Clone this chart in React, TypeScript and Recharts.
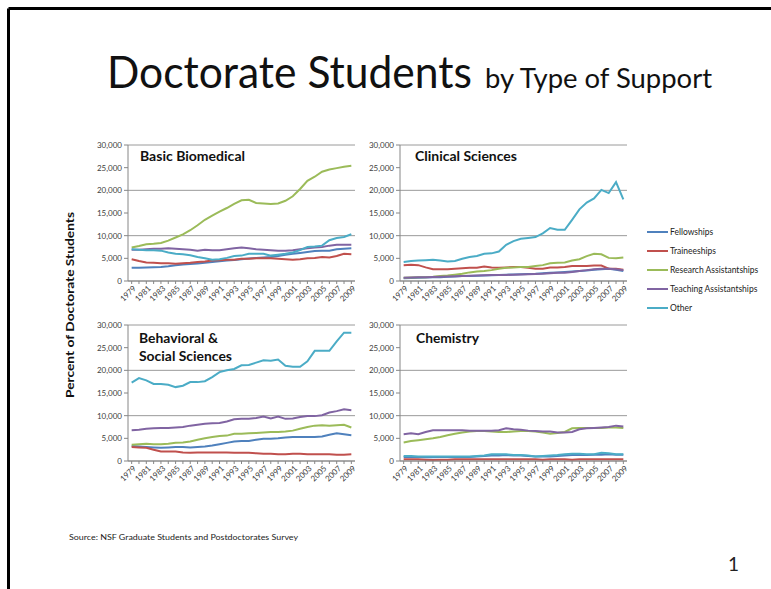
import { LineChart, Line, XAxis, YAxis, CartesianGrid } from 'recharts'

const YEARS = [
  '1979', '1980', '1981', '1982', '1983', '1984', '1985', '1986', '1987', '1988',
  '1989', '1990', '1991', '1992', '1993', '1994', '1995', '1996', '1997', '1998',
  '1999', '2000', '2001', '2002', '2003', '2004', '2005', '2006', '2007', '2008', '2009',
]

const SERIES = ['Fellowships', 'Traineeships', 'Research Assistantships', 'Teaching Assistantships', 'Other']
const COLORS = ['#4F81BD', '#C0504D', '#9BBB59', '#8064A2', '#4BACC6']
const Y_TICKS = [0, 5000, 10000, 15000, 20000, 25000, 30000]

// Basic Biomedical
const bioFellowships = [2900, 2950, 3000, 3050, 3100, 3250, 3450, 3650, 3750, 3850, 4000, 4200, 4350, 4500, 4650, 4800, 4950, 5100, 5200, 5300, 5500, 5800, 6000, 6200, 6400, 6600, 6700, 6700, 7000, 7100, 7200]
const bioTraineeships = [4800, 4400, 4100, 4000, 3900, 3900, 3800, 3900, 4000, 4200, 4300, 4500, 4600, 4700, 4700, 4900, 4900, 5000, 5000, 5000, 4900, 4800, 4700, 4800, 5000, 5100, 5300, 5200, 5500, 6000, 5900]
const bioResearch = [7400, 7700, 8100, 8200, 8400, 8900, 9600, 10300, 11200, 12300, 13500, 14400, 15300, 16100, 17000, 17800, 17900, 17200, 17100, 17000, 17100, 17700, 18700, 20300, 22100, 23000, 24100, 24600, 24900, 25200, 25400]
const bioTeaching = [6900, 6900, 7000, 7100, 7100, 7200, 7100, 7000, 6900, 6700, 6900, 6800, 6800, 7000, 7200, 7400, 7200, 7000, 6900, 6800, 6700, 6700, 6800, 7000, 7200, 7400, 7500, 7800, 8000, 8000, 8000]
const bioOther = [7000, 6900, 6800, 6800, 6700, 6300, 6000, 5900, 5700, 5300, 5000, 4700, 4800, 5100, 5500, 5600, 6000, 6000, 6000, 5600, 5800, 6000, 6300, 6800, 7500, 7600, 7800, 9000, 9500, 9700, 10300]

// Clinical Sciences
const clinFellowships = [600, 650, 700, 750, 800, 850, 950, 1000, 1100, 1100, 1150, 1200, 1250, 1300, 1400, 1450, 1500, 1550, 1600, 1700, 1800, 1900, 2000, 2100, 2200, 2300, 2500, 2600, 2700, 2500, 2200]
const clinTraineeships = [3500, 3600, 3500, 3000, 2600, 2600, 2600, 2700, 2800, 2900, 2900, 3200, 3000, 2900, 3000, 3100, 3100, 2900, 2700, 2700, 3000, 3000, 3100, 3300, 3300, 3300, 3400, 3400, 2700, 2700, 2500]
const clinResearch = [700, 750, 800, 850, 950, 1100, 1200, 1400, 1600, 1900, 2100, 2200, 2400, 2700, 2900, 3000, 3100, 3100, 3300, 3500, 3900, 4000, 4100, 4500, 4800, 5500, 6000, 5900, 5100, 5000, 5200]
const clinTeaching = [700, 750, 800, 850, 900, 950, 1000, 1050, 1100, 1150, 1200, 1250, 1300, 1300, 1300, 1400, 1450, 1500, 1550, 1600, 1700, 1800, 1800, 2000, 2200, 2400, 2600, 2700, 2700, 2600, 2400]
const clinOther = [4200, 4400, 4500, 4600, 4700, 4500, 4300, 4400, 4900, 5300, 5500, 6000, 6100, 6500, 8000, 8800, 9300, 9500, 9700, 10500, 11700, 11300, 11300, 13500, 15800, 17300, 18200, 20100, 19400, 21800, 18000]

// Behavioral & Social Sciences
const behFellowships = [3300, 3200, 3100, 3000, 2900, 3000, 3100, 3100, 3000, 3100, 3200, 3400, 3700, 4000, 4300, 4400, 4400, 4700, 4900, 4900, 5000, 5200, 5300, 5300, 5300, 5300, 5400, 5800, 6100, 5900, 5700]
const behTraineeships = [3100, 3000, 2900, 2500, 2100, 2100, 2100, 1900, 1800, 1900, 1900, 1900, 1900, 1900, 1800, 1800, 1800, 1700, 1600, 1600, 1500, 1500, 1600, 1600, 1500, 1500, 1500, 1500, 1400, 1400, 1500]
const behResearch = [3600, 3700, 3800, 3700, 3700, 3800, 4000, 4100, 4300, 4700, 5000, 5300, 5500, 5600, 6000, 6000, 6100, 6200, 6300, 6400, 6400, 6500, 6700, 7100, 7500, 7800, 7900, 7800, 7900, 8000, 7400]
const behTeaching = [6800, 6900, 7100, 7200, 7300, 7300, 7400, 7500, 7800, 8000, 8200, 8300, 8400, 8700, 9200, 9300, 9300, 9500, 9800, 9400, 9800, 9300, 9400, 9700, 9900, 9900, 10100, 10700, 11000, 11400, 11200]
const behOther = [17300, 18300, 17800, 17000, 17000, 16800, 16300, 16600, 17400, 17400, 17600, 18500, 19600, 20000, 20300, 21100, 21200, 21700, 22200, 22100, 22400, 21000, 20800, 20800, 22000, 24300, 24300, 24300, 26400, 28300, 28300]

// Chemistry
const chemFellowships = [900, 900, 900, 850, 850, 900, 900, 900, 900, 900, 1000, 1100, 1200, 1200, 1300, 1200, 1200, 1100, 1000, 1000, 1000, 1100, 1200, 1300, 1300, 1300, 1400, 1400, 1500, 1400, 1400]
const chemTraineeships = [400, 400, 400, 300, 200, 300, 300, 400, 400, 400, 400, 400, 400, 400, 400, 400, 400, 400, 400, 300, 400, 400, 400, 300, 400, 400, 400, 400, 400, 400, 400]
const chemResearch = [4100, 4400, 4600, 4800, 5000, 5300, 5700, 6000, 6300, 6500, 6600, 6600, 6500, 6400, 6400, 6500, 6600, 6600, 6500, 6300, 6000, 6200, 6400, 7200, 7300, 7300, 7300, 7300, 7400, 7400, 7300]
const chemTeaching = [5900, 6100, 5900, 6400, 6800, 6800, 6800, 6800, 6800, 6700, 6700, 6700, 6700, 6800, 7200, 7000, 6900, 6700, 6600, 6500, 6500, 6300, 6300, 6400, 7000, 7200, 7300, 7400, 7500, 7800, 7600]
const chemOther = [1100, 1100, 1000, 1000, 1000, 1000, 1000, 1000, 1000, 1000, 1100, 1200, 1500, 1500, 1500, 1300, 1300, 1200, 1000, 1100, 1200, 1300, 1500, 1600, 1600, 1500, 1500, 1800, 1700, 1500, 1500]

const FONT = 'Lato, "Open Sans", sans-serif'
const AXIS_GRAY = '#868686'

function buildRows(cols: number[][]) {
  return YEARS.map((year, i) => {
    const row: Record<string, string | number> = { year }
    SERIES.forEach((s, k) => { row[s] = cols[k][i] })
    return row
  })
}

function YearTick({ x, y, payload, index }: any) {
  if (index % 2) return null
  return (
    <g transform={`translate(${x + 3},${y + 1})`}>
      <text x={0} y={0} dy="0.35em" textAnchor="end" transform="rotate(-45)" fontSize={8} fill="#404040" fontFamily={FONT}>
        {payload.value}
      </text>
    </g>
  )
}

function Panel({ left, top, cols }: { left: number; top: number; cols: number[][] }) {
  // left/top is the corner of the plot area
  const rows = buildRows(cols)
  return (
    <div style={{ position: 'absolute', left: left - 40, top: top - 10 }}>
      <LineChart width={282} height={186} data={rows} margin={{ top: 10, right: 15, left: 0, bottom: 0 }}>
        <CartesianGrid vertical={false} stroke="#9a9a9a" />
        <XAxis
          dataKey="year"
          interval={0}
          tick={<YearTick />}
          tickSize={3}
          padding={{ left: 3.66, right: 3.66 }}
          height={40}
          stroke={AXIS_GRAY}
        />
        <YAxis
          domain={[0, 30000]}
          ticks={Y_TICKS}
          tickFormatter={(v: number) => v.toLocaleString('en-US')}
          tick={{ fontSize: 8, fill: '#404040', fontFamily: FONT }}
          tickSize={4}
          tickMargin={2}
          width={40}
          stroke={AXIS_GRAY}
        />
        {SERIES.map((s, k) => (
          <Line key={s} type="linear" dataKey={s} stroke={COLORS[k]} strokeWidth={2} dot={false} isAnimationActive={false} />
        ))}
      </LineChart>
    </div>
  )
}

export default function App() {
  return (
    <div style={{ position: 'absolute', left: 0, top: 0, width: 771, height: 589, background: '#fff', overflow: 'hidden', fontFamily: FONT }}>
      <Panel left={128} top={145} cols={[bioFellowships, bioTraineeships, bioResearch, bioTeaching, bioOther]} />
      <Panel left={400} top={145} cols={[clinFellowships, clinTraineeships, clinResearch, clinTeaching, clinOther]} />
      <Panel left={128} top={325} cols={[behFellowships, behTraineeships, behResearch, behTeaching, behOther]} />
      <Panel left={400} top={325} cols={[chemFellowships, chemTraineeships, chemResearch, chemTeaching, chemOther]} />

      <svg width={771} height={589} style={{ position: 'absolute', left: 0, top: 0, pointerEvents: 'none' }} fontFamily={FONT}>
        <line x1={8.5} y1={8.5} x2={771} y2={8.5} stroke="#000" strokeWidth={3} />
        <line x1={8.5} y1={8.5} x2={8.5} y2={589} stroke="#000" strokeWidth={3} />

        <text x={107} y={88} fontSize={44} fill="#111" textLength={365} lengthAdjust="spacingAndGlyphs">Doctorate Students</text>
        <text x={485} y={88} fontSize={27} fill="#111" textLength={227} lengthAdjust="spacingAndGlyphs">by Type of Support</text>

        <text x={140} y={161} fontSize={12.5} fontWeight="bold" fill="#111" textLength={105} lengthAdjust="spacingAndGlyphs">Basic Biomedical</text>
        <text x={415} y={161} fontSize={12.5} fontWeight="bold" fill="#111" textLength={102} lengthAdjust="spacingAndGlyphs">Clinical Sciences</text>
        <text x={139} y={343} fontSize={12.5} fontWeight="bold" fill="#111" textLength={79} lengthAdjust="spacingAndGlyphs">Behavioral &amp;</text>
        <text x={139} y={361} fontSize={12.5} fontWeight="bold" fill="#111" textLength={93} lengthAdjust="spacingAndGlyphs">Social Sciences</text>
        <text x={416} y={343} fontSize={12.5} fontWeight="bold" fill="#111" textLength={63} lengthAdjust="spacingAndGlyphs">Chemistry</text>

        <text transform="translate(74,305) rotate(-90)" textAnchor="middle" fontSize={12} fontWeight="bold" fill="#111" textLength={186} lengthAdjust="spacingAndGlyphs">
          Percent of Doctorate Students
        </text>

        {SERIES.map((s, k) => (
          <g key={s}>
            <line x1={647} x2={668} y1={232 + k * 19} y2={232 + k * 19} stroke={COLORS[k]} strokeWidth={2} />
            <text x={670} y={232 + k * 19} dy="0.35em" fontSize={8.5} fill="#222">{s}</text>
          </g>
        ))}

        <text x={69} y={540} fontSize={8} fill="#222" textLength={229} lengthAdjust="spacingAndGlyphs">
          Source: NSF Graduate Students and Postdoctorates Survey
        </text>
        <text x={728} y={571} fontSize={19} fill="#222">1</text>
      </svg>
    </div>
  )
}
